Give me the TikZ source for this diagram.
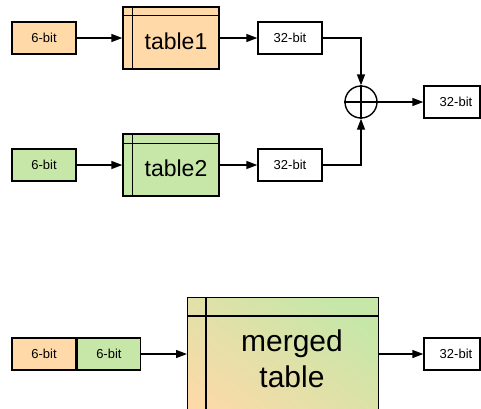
\documentclass[tikz,border=0pt]{standalone}
\usepackage{fontspec}
\setmainfont{Liberation Sans}
\usetikzlibrary{arrows.meta,calc}
\definecolor{orng}{HTML}{FFD9A8}
\definecolor{grn}{HTML}{C7E7A8}
\tikzset{
  bitbox/.style={draw=black,line width=1.4pt,minimum height=32pt,inner sep=0pt,font=\fontsize{13}{15}\selectfont},
  tbl/.style={draw=black,line width=1.4pt,inner sep=0pt},
  conn/.style={line width=1.4pt,-{Triangle[length=11pt,width=8pt]}},
  thinln/.style={line width=1.4pt}
}
\begin{document}
\begin{tikzpicture}[x=1pt,y=-1pt]
\useasboundingbox (0,0) rectangle (481,408);
\clip (0,0) rectangle (481,408);
% top row
\node[bitbox,fill=orng,minimum width=64pt] (a1) at (44,38) {6-bit};
\node[tbl,fill=orng,minimum width=96pt,minimum height=62pt] (t1) at (171,38) {};
\draw[thinln] ($(t1.north west)+(0,9)$) -- ($(t1.north east)+(0,9)$);
\draw[thinln] ($(t1.north west)+(10,0)$) -- ($(t1.south west)+(10,0)$);
\node[font=\fontsize{23}{27}\selectfont] (t1l) at (176,41) {table1};
\node[bitbox,fill=white,minimum width=64pt] (b1) at (290,38) {32-bit};
% bottom row
\node[bitbox,fill=grn,minimum width=64pt] (a2) at (44,165) {6-bit};
\node[tbl,fill=grn,minimum width=96pt,minimum height=62pt] (t2) at (171,165) {};
\draw[thinln] ($(t2.north west)+(0,10)$) -- ($(t2.north east)+(0,10)$);
\draw[thinln] ($(t2.north west)+(10,0)$) -- ($(t2.south west)+(10,0)$);
\node[font=\fontsize{23}{27}\selectfont] (t2l) at (176,168) {table2};
\node[bitbox,fill=white,minimum width=64pt] (b2) at (290,165) {32-bit};
% xor
\node[draw,circle,line width=1.4pt,minimum size=32pt,inner sep=0pt] (x) at (361,102) {};
\draw[thinln] (x.north) -- (x.south);
\draw[thinln] (x.west) -- (x.east);
\node[bitbox,fill=white,minimum width=56pt] (o1) at (452,102) {\hspace*{8pt}32-bit};
\draw[conn] (a1) -- (t1);
\draw[conn] (t1) -- (b1);
\draw[conn] (b1.east) -| (x.north);
\draw[conn] (a2) -- (t2);
\draw[conn] (t2) -- (b2);
\draw[conn] (b2.east) -| (x.south);
\draw[conn] (x) -- (o1);
% merged
\node[bitbox,fill=orng,minimum width=64pt] (c1) at (44,354) {6-bit};
\node[bitbox,fill=grn,minimum width=63pt,anchor=west] (c2) at (c1.east) {6-bit};
\node[tbl,minimum width=191pt,minimum height=150pt,anchor=north west,top color=grn,bottom color=orng,shading angle=-35] (m) at (187,297) {};
\draw[thinln] ($(m.north west)+(0,19)$) -- ($(m.north east)+(0,19)$);
\draw[thinln] ($(m.north west)+(19,0)$) -- ($(m.south west)+(19,0)$);
\node[font=\fontsize{30}{36}\selectfont,align=center] (ml) at (292,359) {merged\\table};
\node[bitbox,fill=white,minimum width=56pt] (o2) at (452,354) {\hspace*{8pt}32-bit};
\draw[conn] (c2) -- (m.west |- c2);
\draw[conn] (m.east |- o2) -- (o2);
\end{tikzpicture}
\end{document}
